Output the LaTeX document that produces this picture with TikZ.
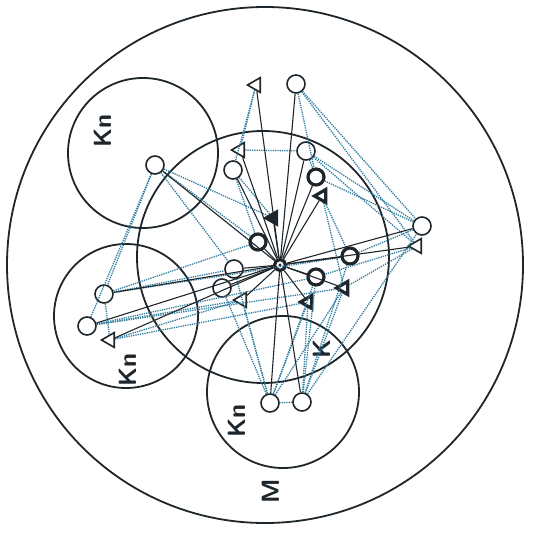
\documentclass[tikz,border=0pt]{standalone}
\usetikzlibrary{shapes.geometric}
\definecolor{inkdk}{HTML}{1E262B}
\definecolor{dotblue}{HTML}{2F7C9E}

\tikzset{
  vtx/.style={circle, draw=inkdk, line width=1.6pt, minimum size=18pt, inner sep=0pt},
  vtxb/.style={vtx, line width=3.2pt, minimum size=16pt},
  tri/.style={regular polygon, regular polygon sides=3, shape border rotate=90, draw=inkdk, line width=1.6pt, minimum size=17pt, inner sep=0pt},
  trib/.style={tri, line width=3.2pt, minimum size=15pt},
  trif/.style={tri, fill=inkdk},
  region/.style={draw=inkdk, line width=1.8pt},
  link/.style={draw=inkdk, line width=1.1pt},
  dlink/.style={draw=dotblue, line width=1.3pt, densely dotted},
  lbl/.style={font=\fontsize{25}{28}\sffamily\bfseries, text=inkdk, rotate=90}
}

\begin{document}
\begin{tikzpicture}[x=1pt, y=-1pt]
\useasboundingbox (0,0) rectangle (532,534);

% Regions
\draw[region] (265,265) circle (258);
\draw[region] (263,257) circle (126);
\draw[region] (143,153) circle (75);
\draw[region] (126,316) circle (72);
\draw[region] (283,392) circle (76);

% Region labels
\node[lbl] at (103,131) {Kn};
\node[lbl] at (128,370) {Kn};
\node[lbl] at (237,421) {Kn};
\node[lbl] at (322,349) {K};
\node[lbl] at (271,491) {M};

% Vertices
\node[vtxb, minimum size=11pt] (c) at (280,265) {};
\fill[inkdk] (c.center) circle (1.6);
\node[tri] (tA) at (256,85) {};
\node[vtx] (oA) at (296,84) {};
\node[tri] (tB) at (240,150) {};
\node[vtx] (oB) at (306,151) {};
\node[vtx] (oC) at (233,170) {};
\node[vtx] (oD) at (155,165) {};
\node[vtxb] (bA) at (316,177) {};
\node[trib] (tbA) at (322,196) {};
\node[trif] (tf) at (273,218) {};
\node[vtxb] (bB) at (258,242) {};
\node[vtx] (oE) at (422,226) {};
\node[tri] (tC) at (417,246) {};
\node[vtxb] (bC) at (350,256) {};
\node[vtx] (oF) at (234,269) {};
\node[vtxb] (bD) at (316,277) {};
\node[vtx] (oG) at (222,288) {};
\node[trib] (tbB) at (344,288) {};
\node[tri] (tD) at (242,300) {};
\node[trib] (tbC) at (308,302) {};
\node[vtx] (oH) at (104,294) {};
\node[vtx] (oI) at (87,326) {};
\node[tri] (tE) at (110,340) {};
\node[vtx] (oJ) at (270,403) {};
\node[vtx] (oK) at (302,402) {};

% Dotted links
\foreach \a/\b in {oA/oE, oA/tC, oA/bA, tA/tB, tA/oC, tB/oB, oB/oE, oB/tC,
  oB/bA, oD/oH, oD/oI, oD/bB, oD/tf, oD/oF, oC/tf, oC/bB, bA/oE, tbA/bC,
  tbA/tbB, oE/bC, tC/tbB, tC/bD, oH/bC, oH/bB, oH/oF, oI/tbB, oI/bD,
  tE/tbC, tE/tD, oH/tE, oI/tD, oJ/tD, oJ/oG, oJ/oF, oJ/tbC, oJ/bD,
  oK/tbB, oK/bD, oK/bC, oK/oJ, oK/oE, oK/tbC, oJ/tbB}
  {\path[dlink] (\a) -- (\b);}

% Solid links to the hub
\foreach \b in {tA, oA, tB, oB, oC, oD, bA, tbA, tf, bB, oE, tC, bC, oF, bD, oG, tbB,
  tD, tbC, oH, oI, tE, oJ, oK}
  {\path[link] (c) -- (\b);}

\end{tikzpicture}
\end{document}
